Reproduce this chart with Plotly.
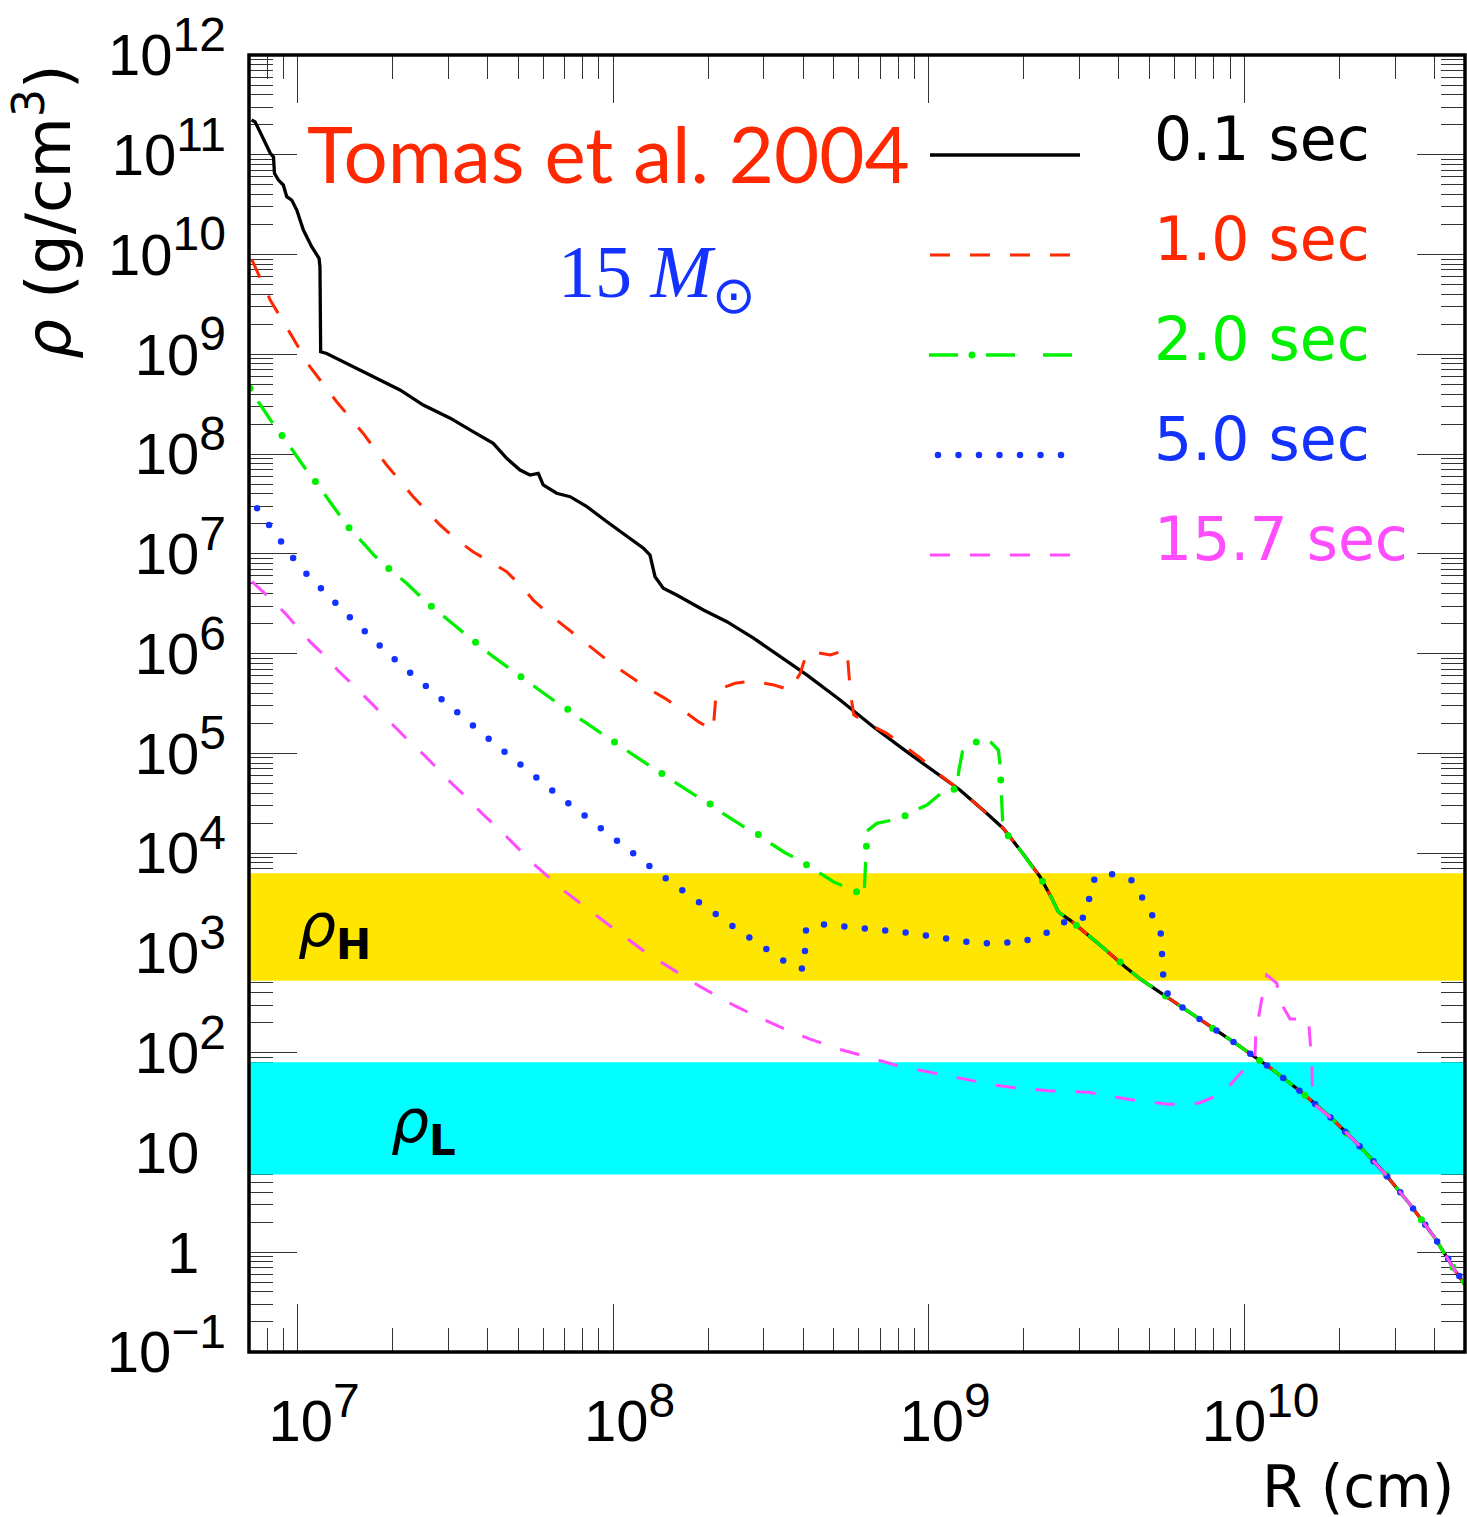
import math
import plotly.graph_objects as go

# ---------------------------------------------------------------------------
# Density profiles rho(R) of a 15 Msun progenitor at several post-bounce times
# R in cm, rho in g/cm^3
# ---------------------------------------------------------------------------

# t = 0.1 s (also the undisturbed outer envelope shared by all later profiles)
R_01 = [7.13e6, 7.31e6, 7.49e6, 7.78e6, 8.17e6, 8.37e6, 8.43e6, 8.68e6, 8.99e6, 9.22e6,
        9.56e6, 9.92e6, 1.041e7, 1.106e7, 1.167e7, 1.175e7, 1.181e7, 1.234e7, 1.428e7, 1.820e7,
        2.107e7, 2.497e7, 3.04e7, 3.59e7, 4.16e7, 4.59e7, 5.06e7, 5.44e7, 5.78e7, 5.99e7,
        6.61e7, 7.29e7, 8.24e7, 9.54e7, 1.102e8, 1.245e8, 1.306e8, 1.355e8, 1.439e8, 1.587e8,
        1.929e8, 2.289e8, 2.78e8, 3.38e8, 4.10e8, 5.23e8, 6.66e8, 8.50e8, 1.084e9, 1.254e9,
        1.524e9, 1.721e9, 1.944e9, 2.14e9, 2.25e9, 2.45e9, 2.57e9, 2.67e9, 2.84e9, 3.53e9,
        4.18e9, 4.72e9, 5.46e9, 6.12e9, 7.46e9, 9.52e9, 1.212e10, 1.530e10, 1.904e10, 2.27e10,
        2.77e10, 3.34e10, 3.99e10, 4.65e10, 5.0e10]
RHO_01 = [2.23e11, 2.14e11, 1.84e11, 1.41e11, 1.04e11, 9.5e10, 6.52e10, 5.58e10, 4.98e10, 3.80e10,
          3.52e10, 2.79e10, 1.76e10, 1.20e10, 9.17e9, 7.55e9, 1.06e9, 1.02e9, 8.13e8, 5.53e8,
          4.39e8, 3.10e8, 2.29e8, 1.68e8, 1.28e8, 9.07e7, 6.92e7, 6.17e7, 6.41e7, 4.90e7,
          4.05e7, 3.74e7, 2.97e7, 2.10e7, 1.49e7, 1.14e7, 9.73e6, 5.90e6, 4.52e6, 3.87e6,
          2.74e6, 2.09e6, 1.43e6, 9.31e5, 6.11e5, 3.43e5, 1.85e5, 1.04e5, 6.07e4, 4.30e4,
          2.51e4, 1.77e4, 1.08e4, 7.05e3, 5.81e3, 3.53e3, 2.59e3, 2.36e3, 2.06e3, 1.16e3,
          728, 536, 394, 308, 203, 120, 69.8, 39.2, 21.5, 12.4,
          6.27, 3.05, 1.43, 0.653, 0.470]

# t = 1.0 s (inner part, outside it follows the envelope)
R_10 = [7.14e6, 8.17e6, 9.44e6, 1.092e7, 1.327e7, 1.611e7, 1.911e7, 2.32e7, 2.82e7, 3.19e7,
        3.59e7, 4.16e7, 4.59e7, 5.18e7, 5.57e7, 6.30e7, 7.03e7, 8.04e7, 1.00e8, 1.261e8,
        1.457e8, 1.626e8, 1.858e8, 2.07e8, 2.10e8, 2.12e8, 2.43e8, 2.75e8, 3.23e8, 3.63e8,
        3.91e8, 4.10e8, 4.30e8, 4.87e8, 5.50e8, 5.64e8, 5.78e8, 6.37e8, 7.35e8, 8.10e8,
        9.37e8]
RHO_10 = [8.96e9, 3.50e9, 1.64e9, 7.52e8, 3.35e8, 1.61e8, 7.78e7, 3.74e7, 1.95e7, 1.38e7,
          1.05e7, 8.04e6, 6.62e6, 4.52e6, 3.44e6, 2.44e6, 1.86e6, 1.32e6, 7.69e5, 4.66e5,
          3.56e5, 2.83e5, 2.08e5, 1.71e5, 2.94e5, 4.32e5, 5.05e5, 5.32e5, 4.85e5, 4.32e5,
          6.35e5, 1.01e6, 1.04e6, 9.68e5, 1.10e6, 4.00e5, 2.43e5, 2.00e5, 1.59e5, 1.26e5,
          9.06e4]

# t = 2.0 s
R_20 = [7.05e6, 7.49e6, 8.26e6, 8.89e6, 9.44e6, 1.054e7, 1.132e7, 1.263e7, 1.341e7, 1.443e7,
        1.630e7, 1.753e7, 1.911e7, 2.21e7, 2.40e7, 2.62e7, 3.04e7, 3.29e7, 3.59e7, 4.16e7,
        4.88e7, 5.32e7, 5.86e7, 6.78e7, 7.42e7, 8.24e7, 9.54e7, 1.044e8, 1.156e8, 1.338e8,
        1.475e8, 1.728e8, 1.898e8, 2.07e8, 2.46e8, 2.69e8, 2.95e8, 3.50e8, 3.84e8, 4.20e8,
        4.98e8, 6.23e8, 6.37e8, 6.84e8, 8.10e8, 8.99e8, 9.85e8, 1.125e9, 1.222e9, 1.245e9,
        1.277e9, 1.399e9, 1.542e9, 1.659e9, 1.679e9, 1.70e9, 1.712e9, 1.754e9]
RHO_20 = [4.56e8, 3.35e8, 2.11e8, 1.55e8, 1.19e8, 7.21e7, 5.50e7, 3.33e7, 2.55e7, 1.87e7,
          1.23e7, 9.51e6, 7.43e6, 5.07e6, 3.96e6, 3.07e6, 2.09e6, 1.69e6, 1.35e6, 9.31e5,
          6.44e5, 5.32e5, 4.32e5, 3.05e5, 2.48e5, 2.00e5, 1.45e5, 1.19e5, 9.64e4, 7.10e4,
          5.85e4, 4.23e4, 3.47e4, 2.88e4, 2.07e4, 1.71e4, 1.43e4, 1.01e4, 8.67e3, 7.31e3,
          5.17e3, 3.81e3, 1.67e4, 1.99e4, 2.23e4, 2.65e4, 3.04e4, 4.30e4, 4.40e4, 6.82e4,
          1.04e5, 1.29e5, 1.38e5, 1.08e5, 7.96e4, 3.41e4, 2.15e4, 1.60e4]

# t = 5.0 s
R_50 = [6.80e6, 7.40e6, 8.06e6, 8.78e6, 9.61e6, 1.059e7, 1.156e7, 1.290e7, 1.428e7, 1.590e7,
        1.767e7, 1.972e7, 2.20e7, 2.46e7, 2.76e7, 3.10e7, 3.47e7, 3.87e7, 4.36e7, 4.89e7,
        5.48e7, 6.15e7, 6.89e7, 7.73e7, 8.72e7, 9.78e7, 1.096e8, 1.240e8, 1.386e8, 1.549e8,
        1.741e8, 1.966e8, 2.21e8, 2.51e8, 2.83e8, 3.21e8, 3.62e8, 4.02e8, 4.04e8, 4.08e8,
        4.55e8, 5.52e8, 6.40e8, 7.39e8, 8.54e8, 9.89e8, 1.143e9, 1.323e9, 1.53e9, 1.781e9,
        1.915e9, 2.20e9, 2.49e9, 2.77e9, 3.05e9, 3.21e9, 3.23e9, 3.41e9, 3.87e9, 4.42e9,
        4.76e9, 5.12e9, 5.42e9, 5.47e9, 5.54e9, 5.56e9]
RHO_50 = [4.20e7, 2.86e7, 1.95e7, 1.32e7, 9.25e6, 6.43e6, 4.76e6, 3.44e6, 2.48e6, 1.77e6,
          1.30e6, 9.46e5, 6.97e5, 5.12e5, 3.76e5, 2.81e5, 2.08e5, 1.55e5, 1.13e5, 8.45e4,
          6.41e4, 4.74e4, 3.52e4, 2.67e4, 1.97e4, 1.50e4, 1.14e4, 8.40e3, 6.37e3, 4.91e3,
          3.75e3, 2.84e3, 2.17e3, 1.66e3, 1.29e3, 982, 757, 686, 1.09e3, 1.75e3,
          1.94e3, 1.85e3, 1.75e3, 1.67e3, 1.60e3, 1.49e3, 1.37e3, 1.29e3, 1.25e3, 1.25e3,
          1.28e3, 1.42e3, 1.73e3, 2.17e3, 2.17e3, 2.79e3, 4.51e3, 6.04e3, 6.18e3, 5.30e3,
          3.58e3, 2.45e3, 1.70e3, 1.08e3, 679, 428]

# t = 15.7 s
R_157 = [7.15e6, 8.17e6, 9.12e6, 1.005e7, 1.092e7, 1.219e7, 1.341e7, 1.498e7, 1.651e7, 1.843e7,
         2.06e7, 2.26e7, 2.53e7, 2.80e7, 3.11e7, 3.47e7, 3.83e7, 4.59e7, 5.12e7, 5.64e7,
         6.30e7, 7.03e7, 9.40e7, 1.276e8, 1.646e8, 1.884e8, 2.15e8, 2.43e8, 2.78e8, 3.18e8,
         3.63e8, 4.20e8, 5.16e8, 5.91e8, 6.84e8, 7.82e8, 9.03e8, 1.045e9, 1.209e9, 1.40e9,
         1.619e9, 1.873e9, 2.39e9, 3.20e9, 4.28e9, 5.73e9, 6.62e9, 7.23e9, 8.26e9, 9.11e9,
         1.004e10, 1.067e10, 1.080e10, 1.086e10, 1.120e10, 1.148e10, 1.177e10, 1.266e10, 1.297e10, 1.395e10,
         1.595e10, 1.615e10, 1.635e10, 1.647e10]
RHO_157 = [5.28e6, 3.58e6, 2.53e6, 1.79e6, 1.32e6, 9.46e5, 6.75e5, 4.84e5, 3.56e5, 2.52e5,
           1.79e5, 1.31e5, 9.42e4, 6.82e4, 4.82e4, 3.49e4, 2.51e4, 1.46e4, 1.04e4, 7.60e3,
           5.60e3, 4.11e3, 2.04e3, 991, 601, 459, 365, 294, 239, 197,
           163, 137, 109, 97.1, 84.5, 75.3, 68.2, 62.2, 57.5, 52.0,
           47.4, 44.6, 41.6, 40.1, 34.1, 30.4, 30.4, 31.5, 37.7, 49.3,
           69.8, 78.3, 91.2, 157, 289, 425, 601, 497, 324, 218,
           218, 134, 78.3, 31.1]

# MSW resonance density ranges (g/cm^3)
RHO_H_BAND = [525, 6300]
RHO_L_BAND = [6.0, 80.0]

LEGEND_LABELS = ["0.1 sec", "1.0 sec", "2.0 sec", "5.0 sec", "15.7 sec"]

# axis limits
R_MIN, R_MAX = 7.0e6, 5.0e10
LOGRHO_MIN, LOGRHO_MAX = -1, 12

# colours
BLACK = "#000000"
RED = "#ff2800"
GREEN = "#00f000"
BLUE = "#1432ff"
MAGENTA = "#ff4cff"
YELLOW = "#ffe600"
CYAN = "#00ffff"

TICK_FONT = "Liberation Sans"
TEXT_FONT = "DejaVu Sans"


def with_envelope(r, rho):
    """Inner profile followed by the undisturbed outer envelope."""
    r_last = r[-1]
    tail = [(a, b) for a, b in zip(R_01, RHO_01) if a > r_last]
    return r + [a for a, _ in tail], rho + [b for _, b in tail]


fig = go.Figure()

# resonance bands (drawn first, under the profiles)
for lo_hi, col in ((RHO_H_BAND, YELLOW), (RHO_L_BAND, CYAN)):
    fig.add_trace(go.Scatter(
        x=[R_MIN, R_MAX, R_MAX, R_MIN, R_MIN],
        y=[lo_hi[0], lo_hi[0], lo_hi[1], lo_hi[1], lo_hi[0]],
        mode="none", fill="toself", fillcolor=col,
        hoverinfo="skip", showlegend=False))

# profiles
fig.add_trace(go.Scatter(x=R_01, y=RHO_01, mode="lines",
                         line=dict(color=BLACK, width=3.3), showlegend=False))

x, y = with_envelope(R_10, RHO_10)
fig.add_trace(go.Scatter(x=x, y=y, mode="lines",
                         line=dict(color=RED, width=3, dash="20px,20px"), showlegend=False))

x, y = with_envelope(R_20, RHO_20)
fig.add_trace(go.Scatter(x=x, y=y, mode="lines",
                         line=dict(color=GREEN, width=3.3, dash="0px,15.5px,26px,15.5px"),
                         showlegend=False))
fig.add_trace(go.Scatter(x=x, y=y, mode="lines", meta="dots",
                         line=dict(color=GREEN, width=7, dash="0px,57px"), showlegend=False))

x, y = with_envelope(R_50, RHO_50)
fig.add_trace(go.Scatter(x=x, y=y, mode="lines", meta="dots",
                         line=dict(color=BLUE, width=6.5, dash="0px,20.5px"), showlegend=False))

x, y = with_envelope(R_157, RHO_157)
fig.add_trace(go.Scatter(x=x, y=y, mode="lines",
                         line=dict(color=MAGENTA, width=3, dash="20px,20px"), showlegend=False))

# legend samples on a unit overlay frame
LEG_Y = [0.9229, 0.8458, 0.7687, 0.6916, 0.6145]
fig.add_trace(go.Scatter(x=[0.560, 0.6834], y=[LEG_Y[0]] * 2, xaxis="x2", yaxis="y2", mode="lines",
                         line=dict(color=BLACK, width=3.3), showlegend=False))
fig.add_trace(go.Scatter(x=[0.560, 0.676], y=[LEG_Y[1]] * 2, xaxis="x2", yaxis="y2", mode="lines",
                         line=dict(color=RED, width=3, dash="20px,20px"), showlegend=False))
fig.add_trace(go.Scatter(x=[0.5592, 0.6768], y=[LEG_Y[2]] * 2, xaxis="x2", yaxis="y2", mode="lines",
                         line=dict(color=GREEN, width=3.3, dash="29px,28px"), showlegend=False))
fig.add_trace(go.Scatter(x=[0.5946, 0.6406], y=[LEG_Y[2]] * 2, xaxis="x2", yaxis="y2", mode="lines",
                         meta="dots", line=dict(color=GREEN, width=7, dash="0px,56px"), showlegend=False))
fig.add_trace(go.Scatter(x=[0.5666, 0.6678], y=[LEG_Y[3]] * 2, xaxis="x2", yaxis="y2", mode="lines",
                         meta="dots", line=dict(color=BLUE, width=6.5, dash="0px,20.5px"), showlegend=False))
fig.add_trace(go.Scatter(x=[0.560, 0.676], y=[LEG_Y[4]] * 2, xaxis="x2", yaxis="y2", mode="lines",
                         line=dict(color=MAGENTA, width=3, dash="20px,20px"), showlegend=False))

# ---------------------------------------------------------------------------
# axes
# ---------------------------------------------------------------------------
SUP = "<sup><span style='font-size:48px'>{}</span></sup>"
SPACER = "\u2007"

y_tickvals = [10.0 ** k for k in range(LOGRHO_MIN, LOGRHO_MAX + 1)]
y_ticktext = []
for k in range(LOGRHO_MIN, LOGRHO_MAX + 1):
    if k == 0:
        y_ticktext.append("1" + SUP.format(SPACER))
    elif k == 1:
        y_ticktext.append("10" + SUP.format(SPACER))
    else:
        y_ticktext.append("10" + SUP.format(str(k).replace("-", "\u2212")))
y_minor = [m * 10.0 ** k for k in range(LOGRHO_MIN, LOGRHO_MAX) for m in range(2, 10)]

x_tickvals = [1e7, 1e8, 1e9, 1e10]
x_ticktext = [SPACER + "10" + SUP.format(k) for k in (7, 8, 9, 10)]
x_minor = [m * 10.0 ** k for k in range(6, 11) for m in range(2, 10)
           if R_MIN < m * 10.0 ** k < R_MAX]

common_axis = dict(
    type="log", showgrid=False, zeroline=False, showline=False,
    ticks="inside", ticklen=48, tickwidth=1.4, tickcolor="#333333",
    mirror="allticks", layer="below traces",
    tickfont=dict(family=TICK_FONT, size=58, color="black"),
)

fig.update_layout(
    width=1467, height=1517,
    margin=dict(l=249, r=2, t=55, b=165),
    paper_bgcolor="white", plot_bgcolor="white",
    showlegend=False,
    xaxis=dict(common_axis, range=[math.log10(R_MIN), math.log10(R_MAX)],
               tickmode="array", tickvals=x_tickvals, ticktext=x_ticktext,
               ticklabelstandoff=30,
               minor=dict(tickmode="array", tickvals=x_minor, ticks="inside", ticklen=24,
                          tickwidth=1.4, tickcolor="#333333", showgrid=False)),
    yaxis=dict(common_axis, range=[LOGRHO_MIN, LOGRHO_MAX],
               tickmode="array", tickvals=y_tickvals, ticktext=y_ticktext,
               ticklabelstandoff=22,
               minor=dict(tickmode="array", tickvals=y_minor, ticks="inside", ticklen=24,
                          tickwidth=1.4, tickcolor="#333333", showgrid=False)),
    xaxis2=dict(overlaying="x", range=[0, 1], visible=False, fixedrange=True),
    yaxis2=dict(overlaying="y", range=[0, 1], visible=False, fixedrange=True),
)

# frame
fig.add_shape(type="rect", xref="paper", yref="paper", x0=0, x1=1, y0=0, y1=1,
              line=dict(color="black", width=3.5), layer="above")

# ---------------------------------------------------------------------------
# text
# ---------------------------------------------------------------------------
def note(text, x, y, size, color="black", family=TEXT_FONT, xanchor="left", angle=0):
    fig.add_annotation(text=text, xref="paper", yref="paper", x=x, y=y,
                       xanchor=xanchor, yanchor="middle", showarrow=False, textangle=angle,
                       font=dict(family=family, size=size, color=color))


note("Tomas et al. 2004", 0.0461, 0.9244, 78, RED, family="Lato")
note("15 <i>M</i><sub>\u2299</sub>", 0.2525, 0.8281, 74, BLUE, family="Liberation Serif")

for label, yy, col in zip(LEGEND_LABELS, [0.9352, 0.8581, 0.7810, 0.7039, 0.6268],
                          [BLACK, RED, GREEN, BLUE, MAGENTA]):
    note(label, 0.7426, yy, 60, col)

note("<i>\u03c1</i><sub><b>H</b></sub>", 0.0390, 0.3254, 60)
note("<i>\u03c1</i><sub><b>L</b></sub>", 0.1155, 0.1750, 60)

note("<i>\u03c1</i> (g/cm<sup>3</sup>)", -0.1686, 0.8790, 63, xanchor="center", angle=-90)
note("R (cm)", 0.9930, -0.1041, 58, xanchor="right")

# round caps for the dotted strokes
POST = """
var gd = document.getElementById('{plot_id}');
function roundDots() {
  gd.querySelectorAll('g.trace.scatter').forEach(function (g) {
    var cd = g.__data__;
    var tr = cd && cd[0] && cd[0].trace;
    if (tr && tr.meta === 'dots') {
      g.querySelectorAll('path.js-line').forEach(function (p) {
        p.style.strokeLinecap = 'round';
      });
    }
  });
}
roundDots();
gd.on('plotly_afterplot', roundDots);
"""

fig.write_html("out.html", config={"displayModeBar": False}, post_script=POST)
